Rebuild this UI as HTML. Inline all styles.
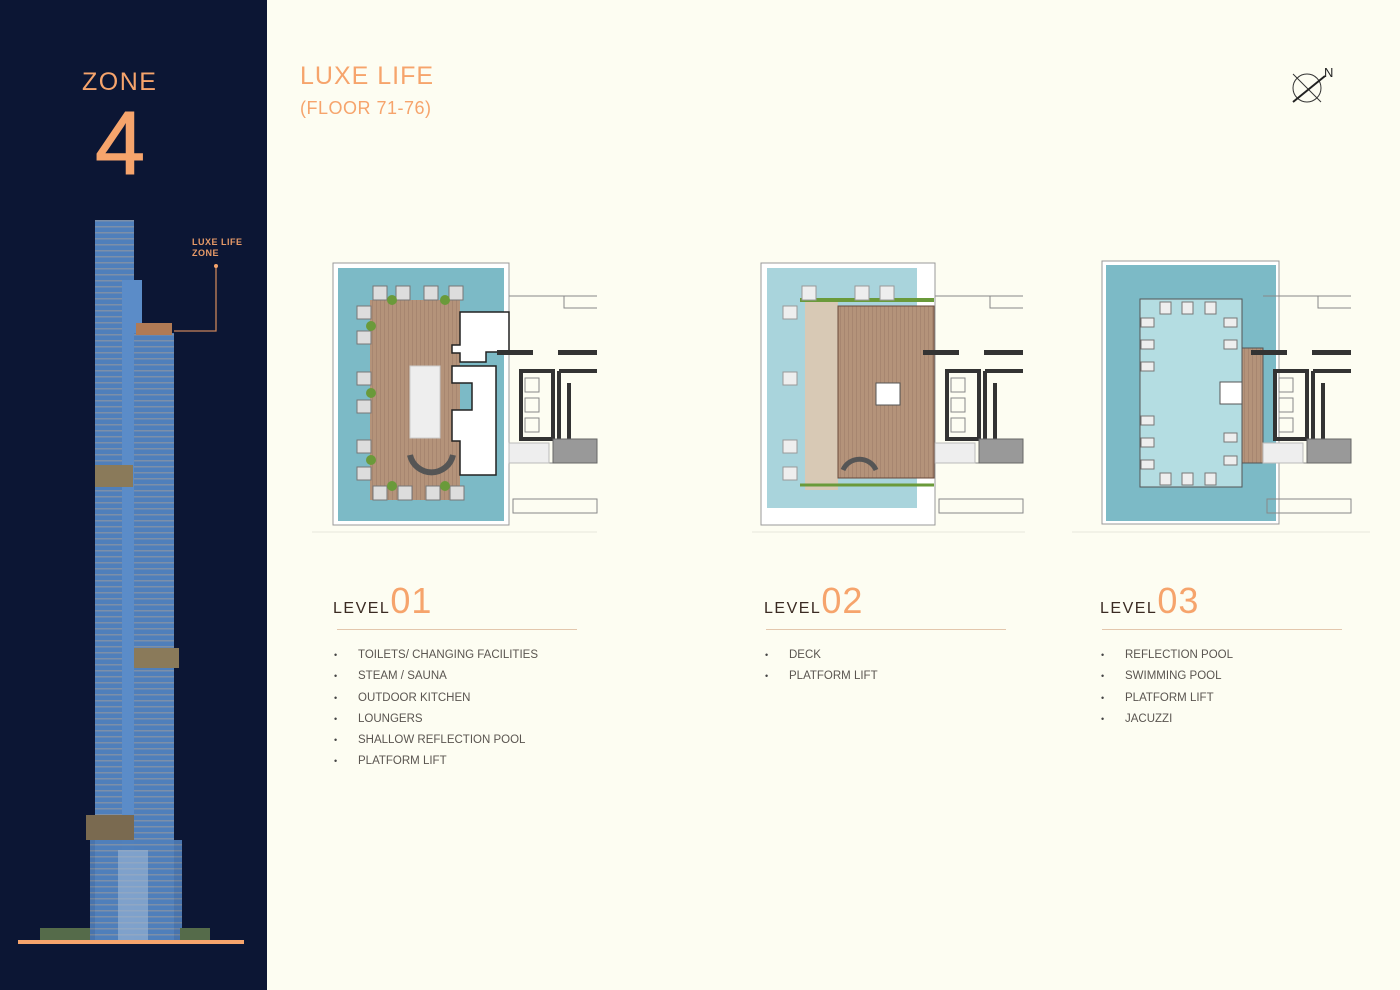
<!DOCTYPE html>
<html><head><meta charset="utf-8"><style>
body{margin:0;width:1400px;height:990px;background:#fdfdf2;position:relative;overflow:hidden;font-family:"Liberation Sans",sans-serif}
.a{position:absolute}
.or{color:#f6a46c}
.lvl{position:absolute;font-size:16px;letter-spacing:1.5px;color:#3a2a22}
.lvl span{font-size:36px;color:#f6a46c;letter-spacing:1px;font-weight:300}
.rule{position:absolute;height:1px;background:#e3c7ad;width:240px}
ul{position:absolute;margin:0;padding:0;list-style:none;font-size:11.5px;color:#5a5550}
li{height:21.3px;line-height:14px}
li:before{content:"•";display:inline-block;width:24px;font-size:9px;color:#444}
</style></head><body>
<div class="a" style="left:0;top:0;width:267px;height:990px;background:#0c1634"></div>
<div class="a or" style="left:82px;top:68px;font-size:25px;letter-spacing:1.5px">ZONE</div>
<div class="a or" style="left:95px;top:96px;font-size:90px;line-height:96px;-webkit-text-stroke:1px #f6a46c">4</div>
<div class="a or" style="left:192px;top:237px;font-size:9px;font-weight:bold;line-height:11px;letter-spacing:.5px;color:#e79a68">LUXE LIFE<br>ZONE</div>
<svg class="a" style="left:0;top:0" width="267" height="990">
<defs><pattern id="fl" width="10" height="6" patternUnits="userSpaceOnUse"><rect width="10" height="6" fill="#4f7fbb"/><rect y="4" width="10" height="1.5" fill="#7c8fa8"/></pattern></defs>
<rect x="95" y="220" width="39" height="720" fill="url(#fl)"/>
<rect x="122" y="280" width="20" height="660" fill="#5b8cc8"/>
<rect x="134" y="333" width="40" height="607" fill="url(#fl)"/>
<rect x="90" y="840" width="92" height="100" fill="url(#fl)" opacity=".9"/>
<rect x="118" y="850" width="30" height="90" fill="#9fb7d6" opacity=".6"/>
<rect x="136" y="323" width="36" height="12" fill="#b07a55"/>
<rect x="95" y="465" width="38" height="22" fill="#8a7a5a"/>
<rect x="134" y="648" width="45" height="20" fill="#8a7a5a"/>
<rect x="86" y="815" width="48" height="25" fill="#7a6a50"/>
<path d="M174 331H216V266" stroke="#c9845a" stroke-width="1.3" fill="none"/>
<circle cx="216" cy="266" r="2" fill="#f6a46c"/>
<rect x="18" y="940" width="226" height="4" fill="#f6a46c"/>
<rect x="40" y="928" width="50" height="12" fill="#556b4a"/><rect x="180" y="928" width="30" height="12" fill="#556b4a"/>
</svg>
<div class="a or" style="left:300px;top:62px;font-size:25px;letter-spacing:1px">LUXE LIFE</div>
<div class="a or" style="left:300px;top:98px;font-size:18px;letter-spacing:0.5px">(FLOOR 71-76)</div>
<svg class="a" style="left:1285px;top:62px" width="60" height="45"><circle cx="22" cy="26" r="14" fill="none" stroke="#333" stroke-width="1"/><line x1="8" y1="12" x2="36" y2="40" stroke="#333"/><line x1="8" y1="40" x2="40" y2="14" stroke="#222" stroke-width="2"/><text x="39" y="15" font-size="13" font-family="Liberation Sans" fill="#222">N</text></svg>

<svg class="a" style="left:0;top:0" width="1400" height="560">
<defs>
<g id="core" fill="none" stroke="#888" stroke-width="1">
<path d="M0 33H88M0 200H88M55 33V45H88M4 236H88V250H4Z"/>
<rect x="-12" y="87" width="36" height="5" fill="#333" stroke="none"/>
<rect x="49" y="87" width="39" height="5" fill="#333" stroke="none"/>
<path d="M12 108H44V176H12ZM50 108H88M50 108V176M60 120V176" stroke="#333" stroke-width="4"/>
<rect x="16" y="115" width="14" height="14"/><rect x="16" y="135" width="14" height="14"/><rect x="16" y="155" width="14" height="14"/>
<rect x="44" y="176" width="44" height="24" fill="#999" stroke="#666"/>
<rect x="0" y="180" width="40" height="20" fill="#eee" stroke="#bbb"/>
</g>
<pattern id="wd" width="4" height="10" patternUnits="userSpaceOnUse"><rect width="4" height="10" fill="#b4937a"/><rect width="1" height="10" fill="#a78670"/></pattern>
</defs>
<rect x="333" y="263" width="176" height="262" fill="#fff" stroke="#999"/>
<rect x="338" y="268" width="166" height="253" fill="#7cbac6"/>
<rect x="370" y="300" width="90" height="200" fill="url(#wd)"/>
<g fill="#ddd" stroke="#777"><rect x="373" y="286" width="14" height="14"/><rect x="396" y="286" width="14" height="14"/><rect x="424" y="286" width="14" height="14"/><rect x="449" y="286" width="14" height="14"/><rect x="373" y="486" width="14" height="14"/><rect x="398" y="486" width="14" height="14"/><rect x="426" y="486" width="14" height="14"/><rect x="450" y="486" width="14" height="14"/>
<rect x="357" y="306" width="14" height="13"/><rect x="357" y="331" width="14" height="13"/><rect x="357" y="372" width="14" height="13"/><rect x="357" y="400" width="14" height="13"/><rect x="357" y="440" width="14" height="13"/><rect x="357" y="467" width="14" height="13"/></g>
<rect x="410" y="366" width="30" height="72" fill="#eee" stroke="#ccc"/>
<path d="M410 455A22 22 0 0 0 453 455" fill="none" stroke="#555" stroke-width="6"/>
<path d="M460 312H509V352H486V362H460V353H452V345H460ZM460 366H496V475H460V441H452V410H472V383H452V366Z" fill="#fff" stroke="#222" stroke-width="1.5"/>
<g fill="#6a9a3a"><circle cx="392" cy="300" r="5"/><circle cx="445" cy="300" r="5"/><circle cx="371" cy="326" r="5"/><circle cx="371" cy="393" r="5"/><circle cx="371" cy="460" r="5"/><circle cx="392" cy="486" r="5"/><circle cx="445" cy="486" r="5"/></g>
<use href="#core" x="509" y="263"/>
<line x1="312" y1="532" x2="597" y2="532" stroke="#e8e6dc"/>
<rect x="761" y="263" width="174" height="262" fill="#fff" stroke="#999"/>
<rect x="767" y="268" width="150" height="240" fill="#a9d4dc"/>
<rect x="805" y="300" width="33" height="190" fill="#d8c9b5"/>
<rect x="838" y="306" width="96" height="172" fill="url(#wd)" stroke="#6a4a3a"/>
<rect x="876" y="383" width="24" height="22" fill="#fff" stroke="#555"/>
<path d="M843 470A18 18 0 0 1 876 470" fill="none" stroke="#555" stroke-width="5"/>
<line x1="800" y1="300" x2="934" y2="300" stroke="#6a9a3a" stroke-width="4"/>
<line x1="800" y1="485" x2="934" y2="485" stroke="#6a9a3a" stroke-width="3"/>
<g fill="#eee" stroke="#999"><rect x="783" y="306" width="14" height="13"/><rect x="783" y="372" width="14" height="13"/><rect x="783" y="440" width="14" height="13"/><rect x="783" y="467" width="14" height="13"/><rect x="802" y="286" width="14" height="14"/><rect x="855" y="286" width="14" height="14"/><rect x="880" y="286" width="14" height="14"/></g>
<use href="#core" x="935" y="263"/>
<line x1="752" y1="532" x2="1025" y2="532" stroke="#e8e6dc"/>
<rect x="1102" y="261" width="177" height="263" fill="#fff" stroke="#999"/>
<rect x="1106" y="265" width="170" height="256" fill="#7cbac6"/>
<rect x="1140" y="299" width="102" height="188" fill="#b4dde2" stroke="#555"/>
<rect x="1242" y="348" width="21" height="115" fill="url(#wd)" stroke="#555"/>
<rect x="1220" y="382" width="22" height="22" fill="#fff" stroke="#555"/>
<g fill="#eee" stroke="#777"><rect x="1160" y="302" width="11" height="12"/><rect x="1182" y="302" width="11" height="12"/><rect x="1205" y="302" width="11" height="12"/><rect x="1160" y="473" width="11" height="12"/><rect x="1182" y="473" width="11" height="12"/><rect x="1205" y="473" width="11" height="12"/>
<rect x="1141" y="318" width="13" height="9"/><rect x="1141" y="340" width="13" height="9"/><rect x="1141" y="362" width="13" height="9"/><rect x="1141" y="416" width="13" height="9"/><rect x="1141" y="438" width="13" height="9"/><rect x="1141" y="460" width="13" height="9"/>
<rect x="1224" y="318" width="13" height="9"/><rect x="1224" y="340" width="13" height="9"/><rect x="1224" y="433" width="13" height="9"/><rect x="1224" y="456" width="13" height="9"/></g>
<use href="#core" x="1263" y="263"/>
<line x1="1072" y1="532" x2="1370" y2="532" stroke="#e8e6dc"/>
</svg>

<div class="lvl" style="left:333px;top:580px">LEVEL<span>01</span></div>
<div class="rule" style="left:337px;top:629px"></div>
<ul style="left:334px;top:648px"><li>TOILETS/ CHANGING FACILITIES</li><li>STEAM / SAUNA</li><li>OUTDOOR KITCHEN</li><li>LOUNGERS</li><li>SHALLOW REFLECTION POOL</li><li>PLATFORM LIFT</li></ul>
<div class="lvl" style="left:764px;top:580px">LEVEL<span>02</span></div>
<div class="rule" style="left:766px;top:629px"></div>
<ul style="left:765px;top:648px"><li>DECK</li><li>PLATFORM LIFT</li></ul>
<div class="lvl" style="left:1100px;top:580px">LEVEL<span>03</span></div>
<div class="rule" style="left:1102px;top:629px"></div>
<ul style="left:1101px;top:648px"><li>REFLECTION POOL</li><li>SWIMMING POOL</li><li>PLATFORM LIFT</li><li>JACUZZI</li></ul>
</body></html>
